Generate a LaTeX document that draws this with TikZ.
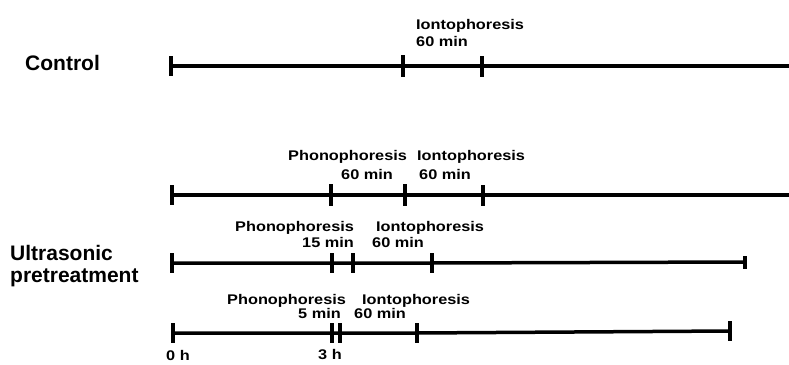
\documentclass[tikz,border=0pt]{standalone}
\usepackage{fontspec}
\setmainfont{Liberation Sans}
\newfontfamily\smallf{Liberation Sans}[FakeStretch=1.165]
\tikzset{
  tick/.style={fill=black, inner sep=0pt, minimum width=3.5pt, minimum height=#1},
  tick/.default=22pt,
  tline/.style={line width=3.5pt},
  lab/.style={anchor=base west, inner sep=0pt, font=\smallf\bfseries\fontsize{14}{14}\selectfont},
  biglab/.style={anchor=base west, inner sep=0pt, font=\bfseries\fontsize{21}{21}\selectfont},
}
\begin{document}
\begin{tikzpicture}[x=1pt,y=-1pt]
\useasboundingbox (0,0) rectangle (789,364);
% row labels
\node[biglab] (ctl) at (25,70) {Control};
\node[biglab] (us1) at (10,260) {Ultrasonic};
\node[biglab] (us2) at (10,282) {pretreatment};
% row 1
\node[tick=20pt] (a0) at (171,66) {};
\node[tick] (a1) at (403,66) {};
\node[tick=21pt] (a2) at (482,66) {};
\coordinate (aE) at (789,66);
\draw[tline] (a0) -- (a1) -- (a2) -- (aE);
\node[lab] (a1l) at (416,29) {Iontophoresis};
\node[lab] (a1m) at (416,46) {60 min};
% row 2
\node[tick=20pt] (b0) at (172,195) {};
\node[tick] (b1) at (331,195) {};
\node[tick] (b2) at (405,195) {};
\node[tick=21pt] (b3) at (483,195) {};
\coordinate (bE) at (789,195);
\draw[tline] (b0) -- (b1) -- (b2) -- (b3) -- (bE);
\node[lab] (b1l) at (288,160) {Phonophoresis};
\node[lab] (b1m) at (341,179) {60 min};
\node[lab] (b2l) at (417,160) {Iontophoresis};
\node[lab] (b2m) at (419,179) {60 min};
% row 3
\node[tick=20pt] (c0) at (172,263) {};
\node[tick=20pt] (c1) at (332,263) {};
\node[tick=20pt] (c2) at (353,263) {};
\node[tick=20pt] (c3) at (432,263) {};
\node[tick=13pt] (c4) at (745,262) {};
\draw[tline] (c0) -- (c1) -- (c2) -- (c3) -- (c4);
\node[lab] (c1l) at (235,231) {Phonophoresis};
\node[lab] (c1m) at (302,247) {15 min};
\node[lab] (c2l) at (376,231) {Iontophoresis};
\node[lab] (c2m) at (372,247) {60 min};
% row 4
\node[tick=20pt] (d0) at (173,333) {};
\node[tick=20pt] (d1) at (332,333) {};
\node[tick=20pt] (d2) at (340,333) {};
\node[tick=20pt] (d3) at (417,333) {};
\node[tick=20pt] (d4) at (730,331) {};
\draw[tline] (d0) -- (d1) -- (d2) -- (d3) -- (d4);
\node[lab] (d1l) at (227,304) {Phonophoresis};
\node[lab] (d1m) at (298,318) {5 min};
\node[lab] (d2l) at (362,304) {Iontophoresis};
\node[lab] (d2m) at (354,318) {60 min};
\node[lab] (t0) at (166,360) {0 h};
\node[lab] (t3) at (318,359) {3 h};
\end{tikzpicture}
\end{document}
